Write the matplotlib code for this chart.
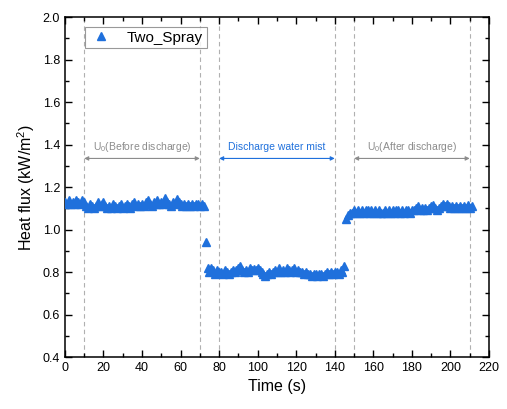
import matplotlib
matplotlib.use('Agg')
import matplotlib.pyplot as plt
import numpy as np

plt.rcParams['font.family'] = ['Liberation Sans', 'DejaVu Sans']
plt.rcParams['mathtext.fontset'] = 'custom'
plt.rcParams['mathtext.rm'] = 'Liberation Sans'

# heat flux readings, one per second
before = [1.13, 1.12, 1.14, 1.12, 1.13, 1.12, 1.14, 1.13, 1.12, 1.14,
          1.13, 1.11, 1.10, 1.12, 1.11, 1.10, 1.11, 1.13, 1.11, 1.12,
          1.13, 1.11, 1.10, 1.11, 1.10, 1.12, 1.11, 1.10, 1.11, 1.12,
          1.10, 1.11, 1.12, 1.11, 1.10, 1.12, 1.13, 1.11, 1.12, 1.11,
          1.12, 1.11, 1.13, 1.14, 1.12, 1.11, 1.13, 1.12, 1.14, 1.12,
          1.13, 1.12, 1.15, 1.13, 1.12, 1.11, 1.13, 1.12, 1.145, 1.13,
          1.12, 1.11, 1.12, 1.11, 1.12, 1.11, 1.12, 1.11, 1.12, 1.12,
          1.11, 1.12, 1.11]
switch_on = [0.94]
during = [0.82, 0.80, 0.82, 0.81, 0.79, 0.81, 0.80,
          0.80, 0.79, 0.81, 0.80, 0.79, 0.80, 0.81, 0.80, 0.81, 0.82,
          0.83, 0.81, 0.80, 0.81, 0.80, 0.82, 0.81, 0.815, 0.81, 0.82,
          0.81, 0.80, 0.79, 0.78, 0.79, 0.80, 0.79, 0.80, 0.81, 0.80,
          0.82, 0.80, 0.81, 0.80, 0.82, 0.81, 0.80, 0.81, 0.82, 0.80,
          0.81, 0.80, 0.80, 0.79, 0.80, 0.79, 0.79, 0.78, 0.79, 0.79,
          0.78, 0.79, 0.79, 0.78, 0.79, 0.80, 0.79, 0.80, 0.79, 0.80,
          0.80, 0.79, 0.81, 0.80]
switch_off = [0.83]
after = [1.05, 1.07, 1.08, 1.08,
         1.09, 1.08, 1.09, 1.08, 1.09, 1.08, 1.09, 1.09, 1.08, 1.09,
         1.08, 1.09, 1.08, 1.09, 1.08, 1.08, 1.09, 1.08, 1.09, 1.08,
         1.09, 1.08, 1.09, 1.09, 1.08, 1.09, 1.08, 1.09, 1.09, 1.08,
         1.09, 1.09, 1.10, 1.11, 1.09, 1.10, 1.09, 1.10, 1.09, 1.10,
         1.11, 1.115, 1.10, 1.09, 1.10, 1.11, 1.12, 1.11, 1.12, 1.11,
         1.10, 1.11, 1.10, 1.11, 1.10, 1.11, 1.10, 1.11, 1.10, 1.115,
         1.10, 1.11]

flux = before + switch_on + during + switch_off + after
time_s = np.arange(len(flux))

marks = [10, 70, 80, 140, 150, 210]
phases = [(10, 70, 'U$_0$(Before discharge)', '#8c8c8c'),
          (80, 140, 'Discharge water mist', '#1f70dc'),
          (150, 210, 'U$_0$(After discharge)', '#8c8c8c')]

fig = plt.figure(figsize=(5.07, 4.09), dpi=100)
ax = fig.add_axes([0.128, 0.127, 0.8365, 0.831])

for m in marks:
    ax.axvline(m, color='#b0b0b0', ls=(0, (4, 3)), lw=0.8, zorder=1)

for x0, x1, txt, col in phases:
    ax.annotate('', xy=(x0, 1.335), xytext=(x1, 1.335),
                arrowprops=dict(arrowstyle='<|-|>', color=col, lw=0.8,
                                mutation_scale=6, shrinkA=0, shrinkB=0))
    ax.text((x0 + x1) / 2, 1.39, txt, color=col, fontsize=7.5,
            ha='center', va='center')

ax.plot(time_s, flux, ls='none', marker='^', ms=6.3, color='#1f70dc',
        mec='#1f70dc', label='Two_Spray', zorder=3)

ax.set_xlim(0, 220)
ax.set_ylim(0.4, 2.0)
ax.set_xticks(np.arange(0, 221, 20))
ax.set_xticks(np.arange(10, 221, 20), minor=True)
ax.set_yticks(np.arange(0.4, 2.01, 0.2))
ax.set_yticks(np.arange(0.5, 2.0, 0.2), minor=True)
ax.yaxis.set_major_formatter(matplotlib.ticker.FormatStrFormatter('%.1f'))
ax.tick_params(which='both', direction='in', top=True, right=True,
               labelsize=9, width=1)
ax.tick_params(which='major', length=5)
ax.tick_params(which='minor', length=3)
for s in ax.spines.values():
    s.set_linewidth(1.1)

ax.set_xlabel('Time (s)', fontsize=11.5)
ax.set_ylabel('Heat flux (kW/m$^2$)', fontsize=11.5)

leg = ax.legend(loc='upper left', fontsize=11, frameon=True, fancybox=False,
                edgecolor='#808080', handletextpad=0.9, borderpad=0.25,
                borderaxespad=0, bbox_to_anchor=(0.047, 0.972),
                handlelength=1.6, markerscale=0.85)
leg.get_frame().set_linewidth(0.8)

fig.savefig('out.png', dpi=100)
